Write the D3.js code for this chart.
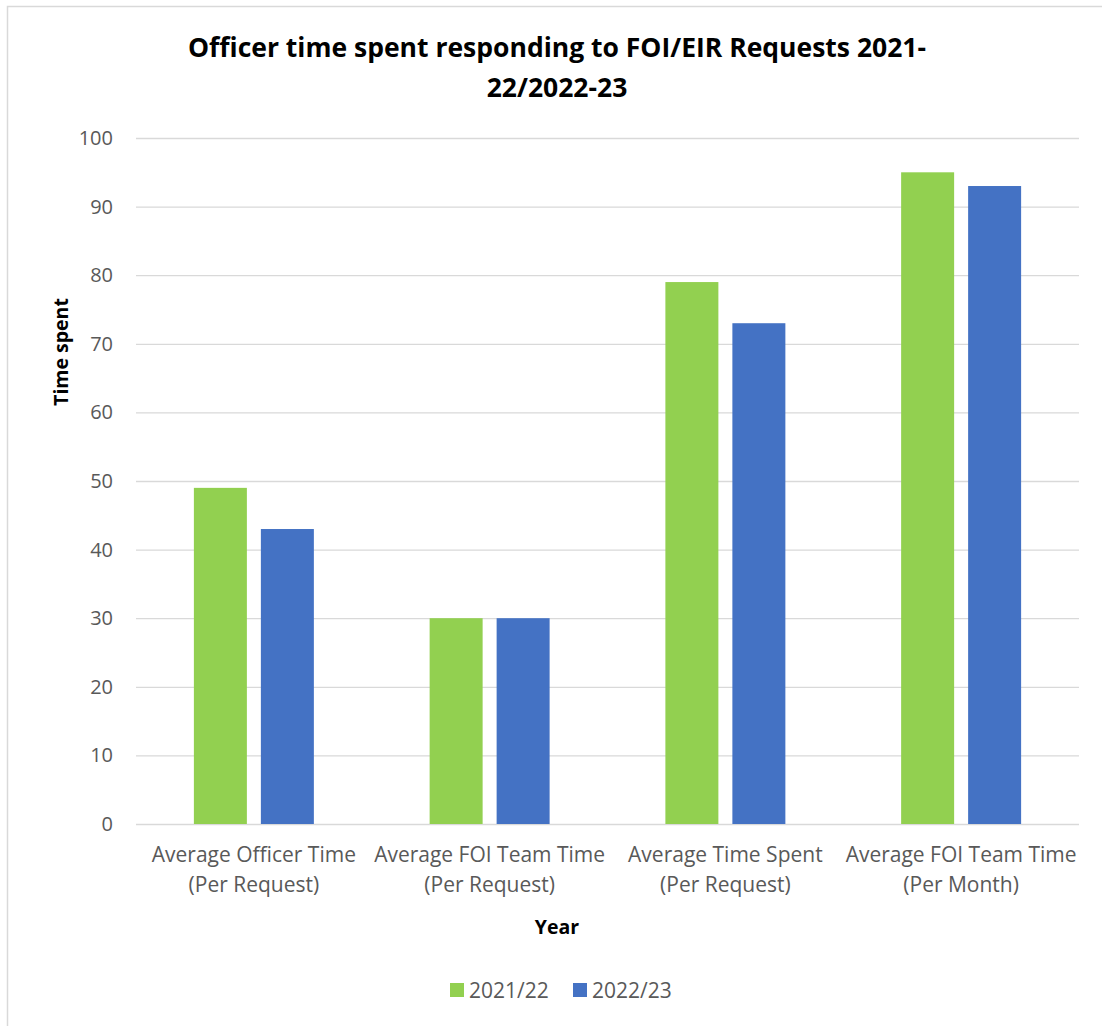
<!DOCTYPE html>
<html><head><meta charset="utf-8">
<script src="https://cdn.jsdelivr.net/npm/d3@7"></script>
<style>body{margin:0;background:#fff;} text{font-family:"Open Sans","Noto Sans",sans-serif;}</style>
</head><body>
<svg id="chart" width="1102" height="1026"></svg>
<script>
const categories = [
  ["Average Officer Time", "(Per Request)"],
  ["Average FOI Team Time", "(Per Request)"],
  ["Average Time Spent", "(Per Request)"],
  ["Average FOI Team Time", "(Per Month)"]
];
const seriesNames = ["2021/22", "2022/23"];
const values2021 = [49, 30, 79, 95];
const values2022 = [43, 30, 73, 93];
const yTicks = [0,10,20,30,40,50,60,70,80,90,100];
const colors = ["#92D050", "#4472C4"];

const svg = d3.select("#chart");
svg.append("rect").attr("x",7.5).attr("y",6.5).attr("width",1200).attr("height",1200)
  .attr("fill","#fff").attr("stroke","#d9d9d9").attr("stroke-width",1.5);

const m = {left:136, right:1079, top:138, bottom:824};
const y = d3.scaleLinear().domain([0,100]).range([m.bottom, m.top]);
const x0 = d3.scaleBand().domain(d3.range(categories.length)).range([m.left, m.right]);
const x1 = d3.scaleBand().domain(seriesNames).range([0, x0.bandwidth()]).paddingInner(14/67).paddingOuter(0.864);

svg.append("g").selectAll("line").data(yTicks).join("line")
  .attr("x1", m.left).attr("x2", m.right)
  .attr("y1", d=>y(d)+0.5).attr("y2", d=>y(d)+0.5)
  .attr("stroke","#d9d9d9").attr("stroke-width",1.3);

const yAxis = svg.append("g").attr("transform",`translate(${m.left},0)`)
  .call(d3.axisLeft(y).tickValues(yTicks).tickSize(0).tickPadding(23));
yAxis.select(".domain").remove();
yAxis.selectAll("text").attr("fill","#595959").style("font-size","20px").style("font-family","'Open Sans',sans-serif");

const data = categories.map((c,i)=>({i, vals:[values2021[i], values2022[i]]}));
const g = svg.append("g").selectAll("g").data(data).join("g")
  .attr("transform", d=>`translate(${x0(d.i)},0)`);
g.selectAll("rect").data(d=>d.vals.map((v,k)=>({k,v}))).join("rect")
  .attr("x", d=>x1(seriesNames[d.k])).attr("width", x1.bandwidth())
  .attr("y", d=>y(d.v)).attr("height", d=>y(0)-y(d.v))
  .attr("fill", d=>colors[d.k]);

const cl = svg.append("g").selectAll("text").data(categories).join("text")
  .attr("text-anchor","middle").attr("fill","#595959").style("font-size","21px")
  .attr("x",(d,i)=>x0(i)+x0.bandwidth()/2).attr("y",862);
cl.selectAll("tspan").data(d=>d).join("tspan")
  .attr("x", function(){return this.parentNode.getAttribute("x");})
  .attr("dy",(d,i)=>i?30:0).text(d=>d);

const title = svg.append("text").attr("text-anchor","middle").attr("x",557).attr("y",57)
  .style("font-size","26.5px").style("font-weight","bold").attr("fill","#000");
title.append("tspan").attr("x",557).text("Officer time spent responding to FOI/EIR Requests 2021-");
title.append("tspan").attr("x",557).attr("dy",40).text("22/2022-23");

svg.append("text").attr("transform","translate(68,352) rotate(-90)").attr("text-anchor","middle")
  .style("font-size","19.5px").style("font-weight","bold").text("Time spent");
svg.append("text").attr("x",557).attr("y",934).attr("text-anchor","middle")
  .style("font-size","19.5px").style("font-weight","bold").text("Year");

const lg = svg.append("g").selectAll("g").data(seriesNames).join("g")
  .attr("transform",(d,i)=>`translate(${450+i*123},983)`);
lg.append("rect").attr("width",14).attr("height",14).attr("fill",(d,i)=>colors[i]);
lg.append("text").attr("x",19).attr("y",15).attr("fill","#595959").style("font-size","21px").text(d=>d);
</script>
</body></html>
